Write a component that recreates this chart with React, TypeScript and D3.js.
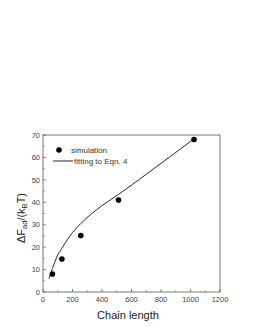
import { useEffect, useRef } from "react";
import * as d3 from "d3";

// simulation points
const simN = [64, 128, 256, 512, 1024];
const simF = [8, 14.7, 25.2, 41, 68];

// fitted curve
const fitN = [40, 64, 100, 128, 200, 256, 400, 512, 700, 1024];
const fitF = [6, 10.5, 16.5, 19.5, 26.5, 30.5, 38.5, 43.5, 52.5, 68.3];

const xTicks = [0, 200, 400, 600, 800, 1000, 1200];
const yTicks = [0, 10, 20, 30, 40, 50, 60, 70];

const FONT = "Arial, 'Liberation Sans', sans-serif";

export default function App() {
  const ref = useRef<SVGSVGElement>(null);

  useEffect(() => {
    const svg = d3.select(ref.current);
    svg.selectAll("*").remove();

    const left = 43, right = 220, top = 135, bottom = 292;
    const x = d3.scaleLinear().domain([0, 1200]).range([left, right]);
    const y = d3.scaleLinear().domain([0, 70]).range([bottom, top]);

    const g = svg.append("g");

    // frame
    g.append("rect")
      .attr("x", left).attr("y", top)
      .attr("width", right - left).attr("height", bottom - top)
      .attr("fill", "none").attr("stroke", "#555").attr("stroke-width", 0.8);

    // ticks, inward, with minor ones
    d3.range(0, 1201, 100).forEach((v) => {
      const major = v % 200 === 0;
      g.append("line")
        .attr("x1", x(v)).attr("x2", x(v))
        .attr("y1", bottom).attr("y2", bottom - (major ? 3 : 1.5))
        .attr("stroke", "#555").attr("stroke-width", 0.7);
    });
    d3.range(0, 71, 5).forEach((v) => {
      const major = v % 10 === 0;
      g.append("line")
        .attr("x1", left).attr("x2", left + (major ? 3 : 1.5))
        .attr("y1", y(v)).attr("y2", y(v))
        .attr("stroke", "#555").attr("stroke-width", 0.7);
    });

    g.selectAll(".xt").data(xTicks).enter().append("text")
      .attr("x", (d) => x(d)).attr("y", bottom + 10)
      .attr("text-anchor", "middle")
      .style("font", `7.5px ${FONT}`)
      .style("fill", "#444")
      .text((d) => d);

    g.selectAll(".yt").data(yTicks).enter().append("text")
      .attr("x", left - 3).attr("y", (d) => y(d) + 2.7)
      .attr("text-anchor", "end")
      .style("font", `7.5px ${FONT}`)
      .style("fill", "#444")
      .text((d) => d);

    // fit curve
    const line = d3.line<number>()
      .x((_, i) => x(fitN[i]))
      .y((d) => y(d))
      .curve(d3.curveMonotoneX);
    g.append("path").datum(fitF)
      .attr("d", line)
      .attr("fill", "none").attr("stroke", "#111").attr("stroke-width", 0.9);

    // points
    g.selectAll(".pt").data(simF).enter().append("circle")
      .attr("cx", (_, i) => x(simN[i])).attr("cy", (d) => y(d))
      .attr("r", 2.8).attr("fill", "#000");

    // legend
    g.append("circle").attr("cx", 59).attr("cy", 150).attr("r", 2.8).attr("fill", "#000");
    g.append("text").attr("x", 71).attr("y", 152.5)
      .style("font", `8px ${FONT}`).style("fill", "#333")
      .text("simulation");
    g.append("line").attr("x1", 53).attr("x2", 73).attr("y1", 161).attr("y2", 161)
      .attr("stroke", "#111").attr("stroke-width", 0.9);
    g.append("text").attr("x", 74).attr("y", 163.5)
      .style("font", `8px ${FONT}`).style("fill", "#333")
      .text("fitting to Eqn. 4");

    // axis titles
    g.append("text").attr("x", 128).attr("y", 318.5)
      .attr("text-anchor", "middle")
      .style("font", `11px ${FONT}`).style("fill", "#222")
      .text("Chain length");

    const yl = g.append("text")
      .attr("transform", `translate(24.5,218) rotate(-90)`)
      .attr("text-anchor", "middle")
      .style("font", `11px ${FONT}`).style("fill", "#222");
    yl.append("tspan").text("\u0394F");
    yl.append("tspan").attr("dy", 2.5).style("font-size", "7.5px").text("ad");
    yl.append("tspan").attr("dy", -2.5).text("/(k");
    yl.append("tspan").attr("dy", 2.5).style("font-size", "7.5px").text("B");
    yl.append("tspan").attr("dy", -2.5).text("T)");
  }, []);

  return (
    <svg ref={ref} width={253} height={327}
      style={{ position: "absolute", left: 0, top: 0, background: "#fff" }} />
  );
}
